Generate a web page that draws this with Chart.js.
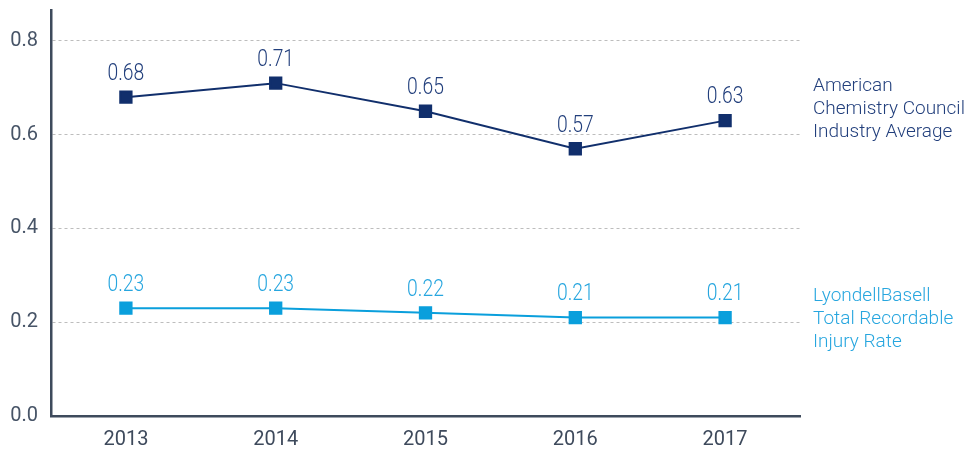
<!DOCTYPE html>
<html>
<head>
<meta charset="utf-8">
<script src="https://cdn.jsdelivr.net/npm/chart.js@4"></script>
<style>
  html, body { margin: 0; padding: 0; background: #fff; }
  #wrap { width: 974px; height: 453px; }
</style>
</head>
<body>
<div id="wrap"><canvas id="trir-chart"></canvas></div>
<script>
const years = ["2013", "2014", "2015", "2016", "2017"];
const accValues = [0.68, 0.71, 0.65, 0.57, 0.63];
const lybValues = [0.23, 0.23, 0.22, 0.21, 0.21];
const yTicks = [0, 0.2, 0.4, 0.6, 0.8];
const accLabel = ["American", "Chemistry Council", "Industry Average"];
const lybLabel = ["LyondellBasell", "Total Recordable", "Injury Rate"];

const navy = "#112f6c";
const blue = "#0a9fdc";

// value labels above points + series names on the right
const labelPlugin = {
    id: "labels",
    afterDatasetsDraw(chart) {
        const ctx = chart.ctx;
        const yScale = chart.scales.y;
        ctx.save();
        chart.data.datasets.forEach((ds, i) => {
            const meta = chart.getDatasetMeta(i);
            ctx.fillStyle = ds.textColor;
            ctx.font = "300 23px Roboto";
            ctx.textAlign = "center";
            ctx.textBaseline = "middle";
            meta.data.forEach((pt, j) => {
                ctx.save();
                ctx.translate(pt.x, pt.y - 23);
                ctx.scale(0.84, 1);
                ctx.fillText(ds.data[j].toFixed(2), 0, 0);
                ctx.restore();
            });
            ctx.font = "300 19px Roboto";
            ctx.textAlign = "left";
            const cy = yScale.getPixelForValue(ds.nameAt);
            ds.name.forEach((line, k) => {
                ctx.fillText(line, chart.chartArea.right + 13, cy + (k - 1) * 23);
            });
        });
        ctx.restore();
    }
};

document.addEventListener("DOMContentLoaded", () => {
    const ctx = document.getElementById("trir-chart").getContext("2d");
    new Chart(ctx, {
        type: "line",
        data: {
            labels: years,
            datasets: [
                {
                    label: "ACC",
                    data: accValues,
                    borderColor: navy,
                    backgroundColor: navy,
                    textColor: "#223f7c",
                    name: accLabel,
                    nameAt: 0.655,
                    borderWidth: 2,
                    pointStyle: "rect",
                    pointRadius: 8,
                    pointHoverRadius: 8,
                    tension: 0,
                },
                {
                    label: "LYB",
                    data: lybValues,
                    borderColor: blue,
                    backgroundColor: blue,
                    textColor: "#27a6df",
                    name: lybLabel,
                    nameAt: 0.207,
                    borderWidth: 2,
                    pointStyle: "rect",
                    pointRadius: 8,
                    pointHoverRadius: 8,
                    tension: 0,
                },
            ],
        },
        options: {
            responsive: true,
            maintainAspectRatio: false,
            animation: false,
            layout: { padding: { top: 9, right: 174, left: 0, bottom: 0 } },
            plugins: {
                legend: { display: false },
                tooltip: { enabled: false },
            },
            scales: {
                x: {
                    offset: true,
                    grid: { display: false, drawTicks: false },
                    border: { color: "#3e4a5c", width: 2.5 },
                    ticks: {
                        color: "#3e4a5c",
                        font: { family: "Roboto", size: 20 },
                        padding: 12,
                    },
                    afterFit(scale) {
                        scale.height = 37;
                        scale.paddingLeft = 0;
                        scale.paddingRight = 0;
                    },
                },
                y: {
                    min: 0,
                    max: 0.866,
                    afterBuildTicks(scale) {
                        scale.ticks = yTicks.map(v => ({ value: v }));
                    },
                    grid: {
                        color: c => (c.tick.value === 0 ? "rgba(0,0,0,0)" : "#bdbdbd"),
                        drawTicks: false,
                    },
                    border: { color: "#3e4a5c", width: 2.5, dash: [3, 3] },
                    ticks: {
                        color: "#475467",
                        font: { family: "Roboto", size: 20 },
                        padding: 13,
                        callback: v => Number(v).toFixed(1),
                    },
                    afterFit(scale) {
                        scale.width = 51;
                        scale.paddingTop = 0;
                        scale.paddingBottom = 0;
                    },
                },
            },
        },
        plugins: [labelPlugin],
    });
});
</script>
</body>
</html>
